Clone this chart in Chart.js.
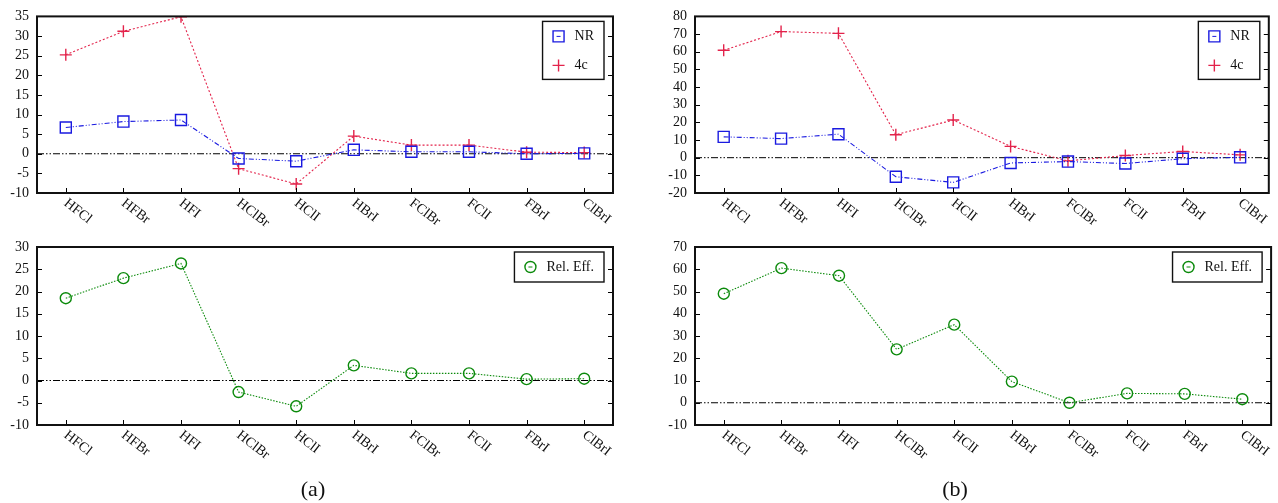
<!DOCTYPE html>
<html><head><meta charset="utf-8">
<script src="https://cdn.jsdelivr.net/npm/chart.js@4.4.1/dist/chart.umd.min.js"></script>
<style>
html,body{margin:0;padding:0;background:#fff;width:1278px;height:503px;overflow:hidden;}
.box{position:absolute;}
.box canvas{display:block;}
.cap{position:absolute;font-family:'Liberation Serif',serif;font-size:22px;color:#111;transform:translate(-50%,-50%);}
</style></head><body>
<div class="box" style="left:0;top:0;width:640px;height:230px"><canvas id="c1" width="640" height="230"></canvas></div>
<div class="box" style="left:640px;top:0;width:638px;height:230px"><canvas id="c2" width="638" height="230"></canvas></div>
<div class="box" style="left:0;top:230px;width:640px;height:273px"><canvas id="c3" width="640" height="273"></canvas></div>
<div class="box" style="left:640px;top:230px;width:638px;height:273px"><canvas id="c4" width="638" height="273"></canvas></div>
<div class="cap" style="left:313px;top:489px">(a)</div>
<div class="cap" style="left:955px;top:489px">(b)</div>
<script>
// ---- data ----
const categories = ['HFCl','HFBr','HFI','HClBr','HClI','HBrI','FClBr','FClI','FBrI','ClBrI'];
const nrA  = [6.7, 8.2, 8.6, -1.2, -1.9, 1.0, 0.5, 0.5, 0.0, 0.1];
const c4A  = [25.2, 31.2, 34.9, -3.8, -7.7, 4.5, 2.2, 2.2, 0.4, 0.3];
const relA = [18.5, 23.0, 26.3, -2.6, -5.8, 3.4, 1.6, 1.6, 0.3, 0.4];
const nrB  = [11.8, 10.8, 13.3, -10.8, -14.0, -3.0, -2.2, -3.3, -0.6, 0.2];
const c4B  = [60.8, 71.4, 70.4, 13.0, 21.3, 6.4, -1.8, 1.2, 3.5, 1.6];
const relB = [49.0, 60.5, 57.1, 24.0, 35.1, 9.5, 0.0, 4.2, 4.0, 1.6];
// y axis [min, max, step]
const yAxisTopA = [-10, 35, 5];
const yAxisTopB = [-20, 80, 10];
const yAxisBotA = [-10, 30, 5];
const yAxisBotB = [-10, 70, 10];
const seriesNames = ['NR', '4c', 'Rel. Eff.'];

const FONT = "'Liberation Serif', 'Times New Roman', serif";
const BLUE = '#1a1ae0', RED = '#e3234b', GREEN = '#0b8a0b';

function drawMarker(ctx, style, x, y, color){
  ctx.save();
  ctx.strokeStyle = color; ctx.lineWidth = 1.4;
  ctx.beginPath();
  if(style==='rect'){ ctx.rect(x-5.5,y-5.5,11,11); }
  else if(style==='cross'){ ctx.moveTo(x-6,y); ctx.lineTo(x+6,y); ctx.moveTo(x,y-6); ctx.lineTo(x,y+6); }
  else { ctx.arc(x,y,5.5,0,Math.PI*2); }
  ctx.stroke();
  if(style!=='cross'){ ctx.beginPath(); ctx.moveTo(x-2,y); ctx.lineTo(x+2,y); ctx.lineWidth=1; ctx.stroke(); }
  ctx.restore();
}

const framePlugin = {
  id:'frame',
  beforeDatasetsDraw(chart){
    const {ctx, chartArea:a, scales:{y}} = chart;
    const y0 = y.getPixelForValue(0);
    ctx.save();
    ctx.strokeStyle = '#000'; ctx.lineWidth = 1;
    ctx.setLineDash([7,2,1.5,2,1.5,2]);
    ctx.beginPath(); ctx.moveTo(a.left,y0); ctx.lineTo(a.right,y0); ctx.stroke();
    ctx.restore();
  },
  afterDraw(chart){
    const {ctx, chartArea:a, scales:{x,y}} = chart;
    ctx.save();
    ctx.strokeStyle='#000'; ctx.lineWidth=1;
    ctx.beginPath();
    y.ticks.forEach((t,i)=>{
      const py = Math.round(y.getPixelForValue(t.value))+0.5;
      ctx.moveTo(a.left,py); ctx.lineTo(a.left+5,py);
      ctx.moveTo(a.right,py); ctx.lineTo(a.right-5,py);
    });
    categories.forEach((c,i)=>{
      const px = Math.round(x.getPixelForTick(i))+0.5;
      ctx.moveTo(px,a.bottom); ctx.lineTo(px,a.bottom-5);
    });
    ctx.stroke();
    ctx.lineWidth=2; ctx.strokeStyle='#111';
    ctx.strokeRect(a.left,a.top,a.right-a.left,a.bottom-a.top);
    // rotated x labels
    ctx.fillStyle='#111'; ctx.font='14px '+FONT;
    ctx.textAlign='left'; ctx.textBaseline='top';
    categories.forEach((c,i)=>{
      const px = x.getPixelForTick(i);
      ctx.save(); ctx.translate(px+4, a.bottom+3); ctx.rotate(38*Math.PI/180);
      ctx.fillText(c,0,0); ctx.restore();
    });
    // legend
    const ds = chart.data.datasets;
    ctx.font='14px '+FONT;
    let tw = 0; ds.forEach(d=>{ tw=Math.max(tw, ctx.measureText(d.label).width); });
    const rowH = 29;
    const bw = 32 + tw + 10, bh = ds.length===1 ? 30 : 58;
    const bx = a.right - 9 - bw, by = a.top + 5;
    ctx.fillStyle='#fff'; ctx.fillRect(bx,by,bw,bh);
    ctx.lineWidth=1.4; ctx.strokeStyle='#111'; ctx.strokeRect(bx,by,bw,bh);
    ds.forEach((d,i)=>{
      const cy = by + 15 + i*rowH;
      drawMarker(ctx, d.pointStyle, bx+16, cy, d.borderColor);
      ctx.fillStyle='#111'; ctx.textBaseline='middle'; ctx.fillText(d.label, bx+32, cy);
    });
    ctx.restore();
  }
};

function makeChart(id, datasets, axis, pad, yWidth, xHeight){
  new Chart(document.getElementById(id), {
    type:'line',
    data:{labels:categories, datasets},
    plugins:[framePlugin],
    options:{
      responsive:false, animation:false, devicePixelRatio:1,
      layout:{padding:pad},
      plugins:{legend:{display:false}, tooltip:{enabled:false}},
      elements:{line:{tension:0}},
      scales:{
        x:{type:'category', offset:true, grid:{display:false, drawTicks:false}, border:{display:false},
           ticks:{display:false}, afterFit(s){ s.height = xHeight; }},
        y:{min:axis[0], max:axis[1], grid:{display:false, drawTicks:false}, border:{display:false},
           ticks:{stepSize:axis[2], autoSkip:false, padding:8, color:'#111', font:{family:FONT, size:14}},
           afterBuildTicks(s){
             const t=[]; for(let v=axis[0]; v<=axis[1]+1e-9; v+=axis[2]) t.push({value:v});
             s.ticks=t;
           },
           afterFit(s){ s.width = yWidth; }}
      }
    }
  });
}

function ds(label, data, color, style, dash, radius){
  return {label, data, borderColor:color, backgroundColor:'transparent',
    pointBackgroundColor:'transparent', pointBorderColor:color, pointBorderWidth:1.4,
    pointStyle:style, pointRadius:radius, borderWidth:1.1, borderDash:dash};
}

makeChart('c1', [
  ds(seriesNames[0], nrA, BLUE, 'rect', [5,2,1,2,1,2], 7.8),
  ds(seriesNames[1], c4A, RED, 'cross', [2,2], 6)
], yAxisTopA, {top:15,right:27,left:0,bottom:0}, 37, 37);
makeChart('c2', [
  ds(seriesNames[0], nrB, BLUE, 'rect', [5,2,1,2,1,2], 7.8),
  ds(seriesNames[1], c4B, RED, 'cross', [2,2], 6)
], yAxisTopB, {top:15,right:6,left:0,bottom:0}, 55, 37);
makeChart('c3', [
  ds(seriesNames[2], relA, GREEN, 'circle', [1.5,1.5], 5.5)
], yAxisBotA, {top:17,right:27,left:0,bottom:0}, 37, 78);
makeChart('c4', [
  ds(seriesNames[2], relB, GREEN, 'circle', [1.5,1.5], 5.5)
], yAxisBotB, {top:17,right:6,left:0,bottom:0}, 55, 78);
</script>
</body></html>
